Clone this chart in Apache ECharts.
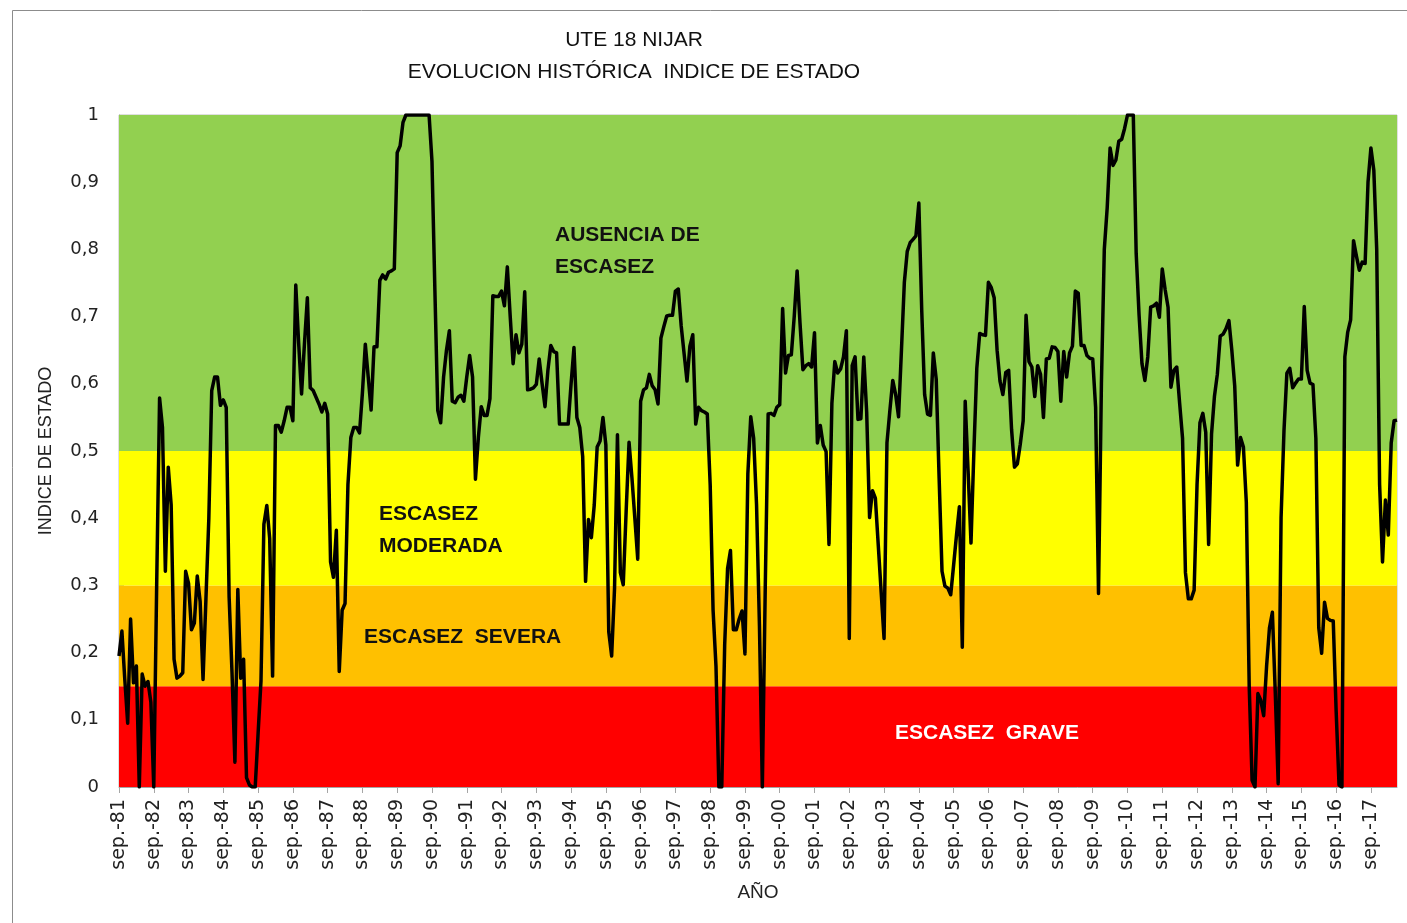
<!DOCTYPE html>
<html>
<head>
<meta charset="utf-8">
<script src="https://cdn.jsdelivr.net/npm/echarts@6/dist/echarts.min.js"></script>
<style>
html,body{margin:0;padding:0;background:#fff;}
#chart{width:1407px;height:923px;}
</style>
</head>
<body>
<div id="chart"></div>
<script>
// ---- DATA (monthly, starting sep.-81) ----
const monthNames = ['ene.','feb.','mar.','abr.','may.','jun.','jul.','ago.','sep.','oct.','nov.','dic.'];
const startYear = 1981;
const startMonth = 8; // sep.

const idxSep81_Aug86 = [
0.195, 0.232, 0.16, 0.095, 0.25, 0.155, 0.18, 0.0, 0.168, 0.15,
0.157, 0.126, 0.0, 0.3, 0.579, 0.535, 0.321, 0.476, 0.42, 0.19,
0.162, 0.165, 0.17, 0.321, 0.303, 0.234, 0.244, 0.314, 0.276, 0.16,
0.28, 0.40, 0.59, 0.61, 0.61, 0.568, 0.576, 0.565, 0.283, 0.17,
0.037, 0.294, 0.162, 0.19, 0.014, 0.003, 0.0, 0.0, 0.08, 0.158,
0.391, 0.419, 0.37, 0.165, 0.538, 0.538, 0.528, 0.545, 0.565, 0.565];

const idxSep86_Aug91 = [
0.545, 0.747, 0.66, 0.585, 0.66, 0.728, 0.594, 0.59, 0.58, 0.57,
0.558, 0.571, 0.555, 0.335, 0.312, 0.382, 0.172, 0.263, 0.273, 0.45,
0.52, 0.535, 0.535, 0.527, 0.587, 0.659, 0.61, 0.561, 0.655, 0.655,
0.754, 0.762, 0.756, 0.766, 0.768, 0.771, 0.944, 0.954, 0.989, 1.0,
1, 1, 1, 1, 1, 1, 1, 1, 0.931, 0.74,
0.56, 0.542, 0.61, 0.65, 0.679, 0.574, 0.572, 0.58, 0.583, 0.574];

const idxSep91_Aug96 = [
0.61, 0.642, 0.61, 0.458, 0.52, 0.566, 0.553, 0.553, 0.578, 0.731,
0.73, 0.73, 0.738, 0.716, 0.774, 0.70, 0.63, 0.673, 0.646, 0.659,
0.737, 0.591, 0.592, 0.594, 0.599, 0.637, 0.60, 0.566, 0.62, 0.657,
0.648, 0.646, 0.54, 0.54, 0.54, 0.54, 0.60, 0.654, 0.55, 0.535,
0.492, 0.306, 0.398, 0.371, 0.42, 0.506, 0.515, 0.55, 0.509, 0.231,
0.195, 0.296, 0.524, 0.319, 0.301, 0.41, 0.513, 0.46, 0.40, 0.339];

const idxSep96_Aug01 = [
0.574, 0.591, 0.594, 0.614, 0.597, 0.591, 0.57, 0.668, 0.685, 0.701,
0.702, 0.702, 0.738, 0.741, 0.686, 0.645, 0.604, 0.656, 0.673, 0.54,
0.565, 0.56, 0.558, 0.555, 0.45, 0.263, 0.18, 0.0, 0.0, 0.211,
0.325, 0.352, 0.234, 0.234, 0.25, 0.262, 0.198, 0.466, 0.551, 0.519,
0.42, 0.24, 0.0, 0.296, 0.555, 0.556, 0.553, 0.565, 0.569, 0.712,
0.616, 0.642, 0.643, 0.70, 0.768, 0.69, 0.621, 0.627, 0.63, 0.625];

const idxSep01_Aug06 = [
0.676, 0.512, 0.538, 0.509, 0.499, 0.361, 0.571, 0.633, 0.616, 0.622,
0.64, 0.679, 0.221, 0.627, 0.64, 0.547, 0.548, 0.64, 0.558, 0.401,
0.441, 0.43, 0.36, 0.29, 0.221, 0.512, 0.56, 0.605, 0.584, 0.551,
0.65, 0.751, 0.797, 0.81, 0.815, 0.82, 0.869, 0.709, 0.584, 0.555,
0.553, 0.646, 0.607, 0.46, 0.321, 0.299, 0.296, 0.286, 0.33, 0.375,
0.417, 0.208, 0.574, 0.47, 0.363, 0.50, 0.623, 0.675, 0.673, 0.672];

const idxSep06_Aug11 = [
0.751, 0.743, 0.728, 0.65, 0.604, 0.584, 0.617, 0.62, 0.532, 0.476,
0.481, 0.51, 0.545, 0.702, 0.633, 0.625, 0.581, 0.627, 0.614, 0.55,
0.637, 0.638, 0.655, 0.654, 0.648, 0.574, 0.648, 0.61, 0.646, 0.656,
0.738, 0.735, 0.657, 0.657, 0.642, 0.638, 0.637, 0.565, 0.288, 0.60,
0.80, 0.862, 0.951, 0.925, 0.933, 0.961, 0.964, 0.98, 1.0, 1.0,
1.0, 0.794, 0.702, 0.63, 0.605, 0.64, 0.714, 0.716, 0.72, 0.699];

const idxSep11_Aug16 = [
0.771, 0.74, 0.714, 0.595, 0.62, 0.625, 0.571, 0.519, 0.319, 0.28,
0.28, 0.293, 0.45, 0.542, 0.556, 0.528, 0.361, 0.525, 0.581, 0.614,
0.671, 0.674, 0.682, 0.694, 0.65, 0.597, 0.479, 0.52, 0.506, 0.424,
0.15, 0.01, 0.0, 0.139, 0.129, 0.106, 0.18, 0.237, 0.26, 0.14,
0.005, 0.401, 0.53, 0.616, 0.623, 0.594, 0.601, 0.607, 0.607, 0.715,
0.62, 0.601, 0.599, 0.519, 0.237, 0.199, 0.275, 0.251, 0.248, 0.247];

const idxSep16_Jun18 = [
0.113, 0.003, 0.0, 0.64, 0.677, 0.695, 0.813, 0.79, 0.769, 0.781,
0.779, 0.90, 0.951, 0.918, 0.80, 0.45, 0.335, 0.427, 0.375, 0.512,
0.545, 0.546];

const yTickValues = [0, 0.1, 0.2, 0.3, 0.4, 0.5, 0.6, 0.7, 0.8, 0.9, 1];
const bandLimits = [0, 0.15, 0.3, 0.5, 1];
const bandNames = ['ESCASEZ  GRAVE', 'ESCASEZ  SEVERA', 'ESCASEZ MODERADA', 'AUSENCIA DE ESCASEZ'];

// ---- build ----
const values = [].concat(idxSep81_Aug86, idxSep86_Aug91, idxSep91_Aug96, idxSep96_Aug01,
  idxSep01_Aug06, idxSep06_Aug11, idxSep11_Aug16, idxSep16_Jun18);
const categories = values.map((v, i) => {
  const t = startMonth + i;
  const m = t % 12;
  const y = (startYear + Math.floor(t / 12)) % 100;
  return monthNames[m] + '-' + String(y).padStart(2, '0');
});

const bandColors = ['#FF0000', '#FFC000', '#FFFF00', '#92D050'];
const bandAreas = bandColors.map((c, i) => [
  { yAxis: bandLimits[i], itemStyle: { color: c, opacity: 1 } },
  { yAxis: bandLimits[i + 1] }
]);

const FONT = "'Liberation Sans', Arial, sans-serif";
const chart = echarts.init(document.getElementById('chart'), null, { renderer: 'canvas' });
chart.setOption({
  animation: false,
  backgroundColor: '#ffffff',
  grid: { left: 119, right: 10, top: 115, bottom: 136, show: true, borderColor: '#BFBFBF', borderWidth: 1, containLabel: false },
  xAxis: {
    type: 'category',
    data: categories,
    boundaryGap: false,
    name: 'AÑO',
    nameLocation: 'middle',
    nameGap: 96,
    nameTextStyle: { fontFamily: FONT, fontSize: 19, color: '#222', verticalAlign: 'top' },
    axisLine: { lineStyle: { color: '#A6A6A6', width: 1 } },
    axisTick: { show: true, interval: 11, length: 6, lineStyle: { color: '#A6A6A6' } },
    axisLabel: {
      interval: 11, rotate: 90, margin: 12,
      fontFamily: "'DejaVu Sans', sans-serif", fontSize: 19, color: '#222'
    },
    splitLine: { show: false }
  },
  yAxis: {
    type: 'value',
    min: 0, max: 1, interval: 0.1,
    name: 'INDICE DE ESTADO',
    nameLocation: 'middle',
    nameRotate: 90,
    nameGap: 64,
    nameTextStyle: { fontFamily: FONT, fontSize: 18, color: '#222' },
    axisLine: { show: true, lineStyle: { color: '#A6A6A6', width: 1 } },
    axisTick: { show: true, inside: true, length: 5, lineStyle: { color: '#A6A6A6' } },
    axisLabel: {
      margin: 20, fontFamily: "'DejaVu Sans', sans-serif", fontSize: 18, color: '#222',
      formatter: v => {
        const hit = yTickValues.find(t => Math.abs(t - v) < 1e-9);
        const val = hit === undefined ? v : hit;
        return String(Math.round(val * 10) / 10).replace('.', ',');
      }
    },
    splitLine: { show: false }
  },
  series: [{
    type: 'line',
    data: values,
    symbol: 'none',
    smooth: false,
    z: 5,
    lineStyle: { color: '#000000', width: 3.5, join: 'round' },
    markArea: { silent: true, data: bandAreas, label: { show: false }, z: 1 }
  }],
  graphic: [
    { type: 'rect', left: 10, top: 8, silent: true,
      shape: { width: 1430, height: 940 }, style: { fill: 'none', stroke: '#8C8C8C', lineWidth: 1 }, z: 100 },
    { type: 'text', style: { text: 'UTE 18 NIJAR', x: 634, y: 40, textAlign: 'center', textVerticalAlign: 'middle', font: "21px " + FONT, fill: '#111' } },
    { type: 'text', style: { text: 'EVOLUCION HISTÓRICA  INDICE DE ESTADO', x: 634, y: 72, textAlign: 'center', textVerticalAlign: 'middle', font: "21px " + FONT, fill: '#111' } },
    { type: 'text', z: 50, style: { text: 'AUSENCIA DE', x: 555, y: 235, textAlign: 'left', textVerticalAlign: 'middle', font: "bold 21px " + FONT, fill: '#111' } },
    { type: 'text', z: 50, style: { text: 'ESCASEZ', x: 555, y: 267, textAlign: 'left', textVerticalAlign: 'middle', font: "bold 21px " + FONT, fill: '#111' } },
    { type: 'text', z: 50, style: { text: 'ESCASEZ', x: 379, y: 514, textAlign: 'left', textVerticalAlign: 'middle', font: "bold 21px " + FONT, fill: '#111' } },
    { type: 'text', z: 50, style: { text: 'MODERADA', x: 379, y: 546, textAlign: 'left', textVerticalAlign: 'middle', font: "bold 21px " + FONT, fill: '#111' } },
    { type: 'text', z: 50, style: { text: bandNames[1], x: 364, y: 637, textAlign: 'left', textVerticalAlign: 'middle', font: "bold 21px " + FONT, fill: '#111' } },
    { type: 'text', z: 50, style: { text: bandNames[0], x: 895, y: 733, textAlign: 'left', textVerticalAlign: 'middle', font: "bold 21px " + FONT, fill: '#ffffff' } }
  ]
});
</script>
</body>
</html>
